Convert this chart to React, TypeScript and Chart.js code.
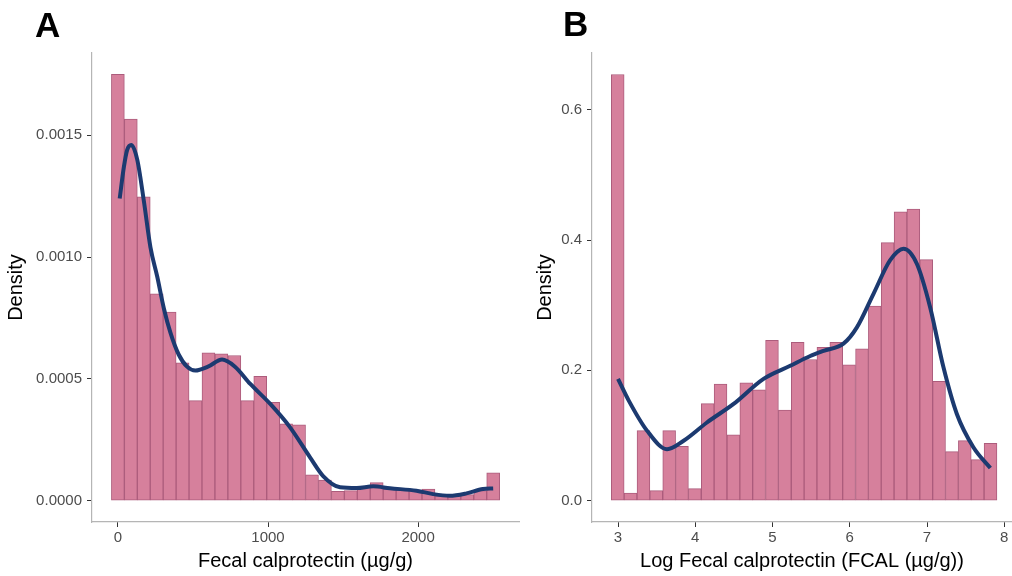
import React, { useEffect, useRef } from "react";
import { Chart, registerables } from "chart.js";

Chart.register(...registerables);

// ---------- Panel A: Fecal calprotectin (µg/g) ----------
const calBinCenters = [
  0, 86.2, 172.4, 258.6, 344.8, 431.0, 517.2, 603.4, 689.7, 775.9,
  862.1, 948.3, 1034.5, 1120.7, 1206.9, 1293.1, 1379.3, 1465.5, 1551.7, 1637.9,
  1724.1, 1810.3, 1896.6, 1982.8, 2069.0, 2155.2, 2241.4, 2327.6, 2413.8, 2500.0,
];
const calDensity = [
  0.00175, 0.001566, 0.001247, 0.000849, 0.000774, 0.000566, 0.000411, 0.000607, 0.000603, 0.000596,
  0.000411, 0.00051, 0.000404, 0.000315, 0.000311, 0.000106, 0.000085, 0.000038, 0.000041, 0.000058,
  0.000074, 0.000048, 0.000045, 0.000045, 0.000048, 0.00002, 0.00002, 0.000025, 0.000041, 0.000114,
];
const calCurveX = [
  12, 40, 62, 89, 129, 173, 217, 262, 306, 350, 405, 461, 516, 600, 694, 780, 882, 1015, 1147, 1280,
  1369, 1480, 1591, 1701, 1812, 1989, 2100, 2210, 2322, 2432, 2500,
];
const calCurveY = [
  0.00124, 0.00137, 0.00144, 0.00146, 0.0014, 0.00123, 0.00104, 0.00092, 0.00079, 0.00069, 0.0006,
  0.00055, 0.000534, 0.00055, 0.000579, 0.00055, 0.000479, 0.000397, 0.000301, 0.000178, 0.0001,
  0.000055, 0.000052, 0.000059, 0.000051, 0.000041, 0.000027, 0.00002, 0.00003, 0.000048, 0.00005,
];
const calXTicks = [0, 1000, 2000];
const calYTicks = [0, 0.0005, 0.001, 0.0015];

// ---------- Panel B: Log Fecal calprotectin ----------
const logBinCenters = [
  2.996, 3.162, 3.329, 3.495, 3.662, 3.828, 3.994, 4.161, 4.327, 4.494,
  4.66, 4.826, 4.993, 5.159, 5.326, 5.492, 5.658, 5.825, 5.991, 6.158,
  6.324, 6.49, 6.657, 6.823, 6.99, 7.156, 7.322, 7.489, 7.655, 7.822,
];
const logDensity = [
  0.654, 0.0118, 0.1075, 0.0154, 0.1075, 0.0834, 0.0184, 0.149, 0.179, 0.101,
  0.181, 0.17, 0.246, 0.139, 0.243, 0.2166, 0.2355, 0.243, 0.2084, 0.233,
  0.2985, 0.396, 0.4434, 0.4475, 0.37, 0.183, 0.0753, 0.0922, 0.063, 0.088,
];
const logCurveX = [
  3.0, 3.137, 3.375, 3.634, 3.849, 4.151, 4.496, 4.884, 5.229, 5.488, 5.66,
  5.918, 6.092, 6.307, 6.523, 6.695, 6.868, 7.04, 7.212, 7.386, 7.6, 7.82,
];
const logCurveY = [
  0.187, 0.154, 0.1075, 0.079, 0.092, 0.12, 0.1485, 0.187, 0.207, 0.222, 0.23,
  0.241, 0.266, 0.3175, 0.369, 0.3866, 0.3636, 0.297, 0.205, 0.133, 0.082, 0.05,
];
const logXTicks = [3, 4, 5, 6, 7, 8];
const logYTicks = [0, 0.2, 0.4, 0.6];

const FONT = '"Liberation Sans", Arial, Helvetica, sans-serif';
const BAR_FILL = "rgb(214,128,156)";
const BAR_EDGE = "rgb(172,92,124)";
const CURVE = "#1c3a70";
const AXIS_LINE = "#b5b5b5";
const TICK_COLOR = "#333333";
const TICK_LABEL = "#4d4d4d";

type PanelProps = {
  letter: string;
  letterX: number;
  letterY: number;
  width: number;
  left: number;
  binCenters: number[];
  density: number[];
  curveX: number[];
  curveY: number[];
  xTicks: number[];
  yTicks: number[];
  yDecimals: number;
  xMin: number;
  xMax: number;
  yMin: number;
  yMax: number;
  yAxisWidth: number;
  yTitlePad: number;
  rightPad: number;
  xTitle: string;
};

function Panel(p: PanelProps) {
  const ref = useRef<HTMLCanvasElement | null>(null);

  useEffect(() => {
    if (!ref.current) return;
    const letterPlugin = {
      id: "panelLetter",
      afterDraw(chart: any) {
        const ctx = chart.ctx;
        ctx.save();
        ctx.font = `bold 35px ${FONT}`;
        ctx.fillStyle = "#000";
        ctx.textBaseline = "alphabetic";
        ctx.textAlign = "left";
        ctx.fillText(p.letter, p.letterX, p.letterY);
        ctx.restore();
      },
    };

    const chart = new Chart(ref.current, {
      type: "bar",
      data: {
        datasets: [
          {
            type: "line",
            data: p.curveX.map((x, i) => ({ x, y: p.curveY[i] })),
            borderColor: CURVE,
            borderWidth: 4,
            pointRadius: 0,
            fill: false,
            cubicInterpolationMode: "monotone",
            borderCapStyle: "butt",
            order: 0,
          } as any,
          {
            type: "bar",
            data: p.binCenters.map((x, i) => ({ x, y: p.density[i] })),
            backgroundColor: BAR_FILL,
            borderColor: BAR_EDGE,
            borderWidth: 1,
            borderSkipped: false,
            barPercentage: 1,
            categoryPercentage: 1,
            order: 1,
          } as any,
        ],
      },
      options: {
        animation: false,
        responsive: false,
        maintainAspectRatio: false,
        layout: { padding: { top: 53, left: 0, right: p.rightPad, bottom: 0 } },
        plugins: {
          legend: { display: false },
          tooltip: { enabled: false },
        },
        scales: {
          x: {
            type: "linear",
            min: p.xMin,
            max: p.xMax,
            offset: false,
            afterBuildTicks: (scale: any) => {
              scale.ticks = p.xTicks.map((v) => ({ value: v }));
            },
            afterFit: (scale: any) => {
              scale.height = 54;
            },
            ticks: {
              color: TICK_LABEL,
              font: { family: FONT, size: 15 },
              padding: 2,
              maxRotation: 0,
              autoSkip: false,
              callback: (v: any) => String(v),
            },
            grid: {
              offset: false,
              drawOnChartArea: false,
              drawTicks: true,
              tickLength: 5,
              tickColor: TICK_COLOR,
              tickWidth: 1,
            },
            border: { display: true, color: AXIS_LINE, width: 1.2 },
            title: {
              display: true,
              text: p.xTitle,
              color: "#000",
              font: { family: FONT, size: 20 },
              padding: { top: 0, bottom: 3 },
            },
          },
          y: {
            type: "linear",
            min: p.yMin,
            max: p.yMax,
            afterBuildTicks: (scale: any) => {
              scale.ticks = p.yTicks.map((v) => ({ value: v }));
            },
            afterFit: (scale: any) => {
              scale.width = p.yAxisWidth;
            },
            ticks: {
              color: TICK_LABEL,
              font: { family: FONT, size: 15 },
              padding: 5,
              autoSkip: false,
              callback: (v: any) => Number(v).toFixed(p.yDecimals),
            },
            grid: {
              drawOnChartArea: false,
              drawTicks: true,
              tickLength: 5,
              tickColor: TICK_COLOR,
              tickWidth: 1,
            },
            border: { display: true, color: AXIS_LINE, width: 1.2 },
            title: {
              display: true,
              text: "Density",
              color: "#000",
              font: { family: FONT, size: 20 },
              padding: { top: p.yTitlePad, bottom: 0 },
            },
          },
        },
      } as any,
      plugins: [letterPlugin],
    });
    return () => chart.destroy();
  }, []);

  return (
    <canvas
      ref={ref}
      width={p.width}
      height={576}
      style={{ position: "absolute", left: p.left, top: 0, width: p.width, height: 576 }}
    />
  );
}

export default function App() {
  return (
    <div
      style={{
        position: "absolute",
        left: 0,
        top: 0,
        width: 1012,
        height: 576,
        background: "#fff",
        overflow: "hidden",
      }}
    >
      <Panel
        letter="A"
        letterX={35}
        letterY={37}
        width={520}
        left={0}
        binCenters={calBinCenters}
        density={calDensity}
        curveX={calCurveX}
        curveY={calCurveY}
        xTicks={calXTicks}
        yTicks={calYTicks}
        yDecimals={4}
        xMin={-172.4}
        xMax={2672}
        yMin={-0.0000875}
        yMax={0.0018375}
        yAxisWidth={92}
        yTitlePad={4}
        rightPad={1}
        xTitle="Fecal calprotectin (µg/g)"
      />
      <Panel
        letter="B"
        letterX={43}
        letterY={36}
        width={492}
        left={520}
        binCenters={logBinCenters}
        density={logDensity}
        curveX={logCurveX}
        curveY={logCurveY}
        xTicks={logXTicks}
        yTicks={logYTicks}
        yDecimals={1}
        xMin={2.663}
        xMax={8.1}
        yMin={-0.0327}
        yMax={0.687}
        yAxisWidth={72}
        yTitlePad={13}
        rightPad={0}
        xTitle="Log Fecal calprotectin (FCAL (µg/g))"
      />
    </div>
  );
}
